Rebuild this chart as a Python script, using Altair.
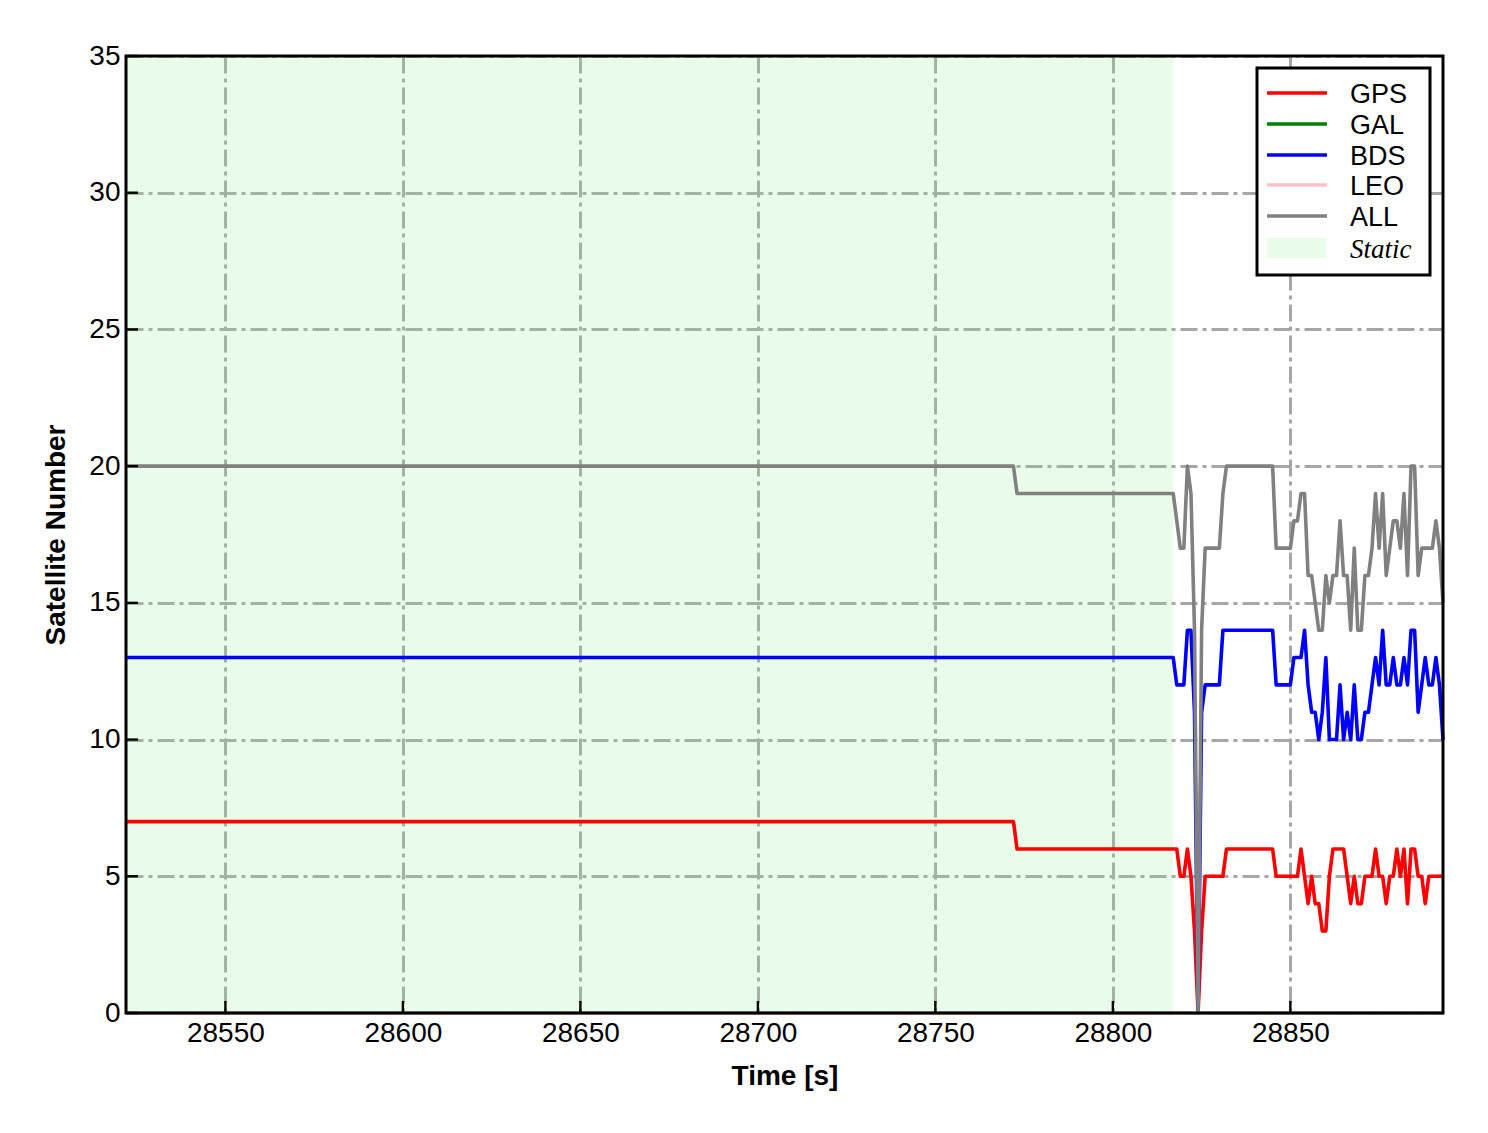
import altair as alt
import pandas as pd

# ---------------- data ----------------
# epochs: constant static stretch given by its breakpoints, then 1 Hz epochs
TIME = [28522, 28772, 28773, 28817] + list(range(28818, 28894))

GPS = [7, 7, 6, 6,
       6, 5, 5, 6, 5, 3, 0, 3, 5, 5,
       5, 5, 5, 5, 6, 6, 6, 6, 6, 6,
       6, 6, 6, 6, 6, 6, 6, 6, 5, 5,
       5, 5, 5, 5, 5, 6, 5, 4, 5, 4,
       4, 3, 3, 5, 6, 6, 6, 6, 5, 4,
       5, 4, 4, 5, 5, 5, 6, 5, 5, 4,
       5, 5, 6, 5, 6, 4, 6, 6, 5, 5,
       4, 5, 5, 5, 5, 5]

BDS = [13, 13, 13, 13,
       12, 12, 12, 14, 14, 11, 0, 11, 12, 12,
       12, 12, 12, 14, 14, 14, 14, 14, 14, 14,
       14, 14, 14, 14, 14, 14, 14, 14, 12, 12,
       12, 12, 12, 13, 13, 13, 14, 12, 11, 11,
       10, 11, 13, 10, 10, 10, 12, 10, 11, 10,
       12, 10, 10, 11, 11, 12, 13, 12, 14, 12,
       12, 13, 12, 12, 13, 12, 14, 14, 11, 12,
       13, 12, 12, 13, 12, 10]

ALL = [20, 20, 19, 19,
       18, 17, 17, 20, 19, 14, 0, 14, 17, 17,
       17, 17, 17, 19, 20, 20, 20, 20, 20, 20,
       20, 20, 20, 20, 20, 20, 20, 20, 17, 17,
       17, 17, 17, 18, 18, 19, 19, 16, 16, 15,
       14, 14, 16, 15, 16, 16, 18, 16, 16, 14,
       17, 14, 14, 16, 16, 17, 19, 17, 19, 16,
       17, 18, 18, 17, 19, 16, 20, 20, 16, 17,
       17, 17, 17, 18, 17, 15]

GAL = [0] * len(TIME)
LEO = [0] * len(TIME)

STATIC_START = 28522
STATIC_END = 28817

XTICKS = [28550, 28600, 28650, 28700, 28750, 28800, 28850]
YTICKS = [0, 5, 10, 15, 20, 25, 30, 35]

SERIES = ["GPS", "GAL", "BDS", "LEO", "ALL"]
COLORS = {"GPS": "#ff0000", "GAL": "#008000", "BDS": "#0000ff",
          "LEO": "#ffc0cb", "ALL": "#808080"}

df = pd.DataFrame({"t": TIME, "GPS": GPS, "GAL": GAL, "BDS": BDS,
                   "LEO": LEO, "ALL": ALL})

# ---------------- layout ----------------
W, H = 1317, 957
FONT = "Liberation Sans"

xscale = alt.Scale(domain=[28522, 28893], nice=False, zero=False)
yscale = alt.Scale(domain=[0, 35], nice=False, zero=True)

grid_style = dict(grid=True, gridColor="#a6a6a6", gridDash=[17, 5, 4, 5],
                  gridWidth=3, domain=False, ticks=False,
                  labelFont=FONT, labelFontSize=28, labelColor="black",
                  titleFont=FONT, titleFontSize=28, titleFontWeight="bold",
                  titleColor="black")

xaxis = alt.Axis(values=XTICKS, format="d", title="Time [s]",
                 labelPadding=6, titlePadding=15, **grid_style)
yaxis = alt.Axis(values=YTICKS, format="d", title="Satellite Number",
                 labelPadding=6, titlePadding=18, **grid_style)

layers = []

# static shaded region
static_df = pd.DataFrame({"x": [STATIC_START], "x2": [STATIC_END],
                          "y": [0], "y2": [35]})
layers.append(
    alt.Chart(static_df).mark_rect(fill="#90ee90", fillOpacity=0.2,
                                   strokeWidth=0).encode(
        x=alt.X("x:Q", scale=xscale, axis=xaxis),
        x2="x2:Q",
        y=alt.Y("y:Q", scale=yscale, axis=yaxis),
        y2="y2:Q",
    )
)

# series lines
for s in SERIES:
    layers.append(
        alt.Chart(df).mark_line(color=COLORS[s], strokeWidth=3.6,
                                strokeJoin="round").encode(
            x=alt.X("t:Q", scale=xscale, axis=xaxis),
            y=alt.Y(f"{s}:Q", scale=yscale, axis=yaxis),
        )
    )

# inward ticks
xt = pd.DataFrame({"v": XTICKS})
yt = pd.DataFrame({"v": YTICKS})
layers.append(
    alt.Chart(xt).mark_rule(color="black", strokeWidth=2.4).encode(
        x=alt.X("v:Q", scale=xscale, axis=xaxis),
        y=alt.value(H - 12), y2=alt.value(H),
    )
)
layers.append(
    alt.Chart(yt).mark_rule(color="black", strokeWidth=2.4).encode(
        y=alt.Y("v:Q", scale=yscale, axis=yaxis),
        x=alt.value(0), x2=alt.value(12),
    )
)

dummy = pd.DataFrame({"a": [0]})

# frame
layers.append(
    alt.Chart(dummy).mark_rect(fillOpacity=0, stroke="black",
                               strokeWidth=3).encode(
        x=alt.value(0), x2=alt.value(W), y=alt.value(0), y2=alt.value(H)
    )
)

# legend
LEG_LABELS = ["GPS", "GAL", "BDS", "LEO", "ALL", "Static"]
LEG_ROWS = [38, 69, 100, 130, 161, 193]
layers.append(
    alt.Chart(dummy).mark_rect(fill="white", stroke="black",
                               strokeWidth=3).encode(
        x=alt.value(1131), x2=alt.value(1304),
        y=alt.value(12), y2=alt.value(219)
    )
)
for lab, yy in zip(LEG_LABELS, LEG_ROWS):
    if lab == "Static":
        layers.append(
            alt.Chart(dummy).mark_rect(fill="#90ee90", fillOpacity=0.2,
                                       strokeWidth=0).encode(
                x=alt.value(1141), x2=alt.value(1200),
                y=alt.value(yy - 11), y2=alt.value(yy + 9)
            )
        )
        layers.append(
            alt.Chart(dummy).mark_text(align="left", baseline="middle",
                                       font="Liberation Serif",
                                       fontStyle="italic", fontSize=27,
                                       color="black").encode(
                x=alt.value(1224), y=alt.value(yy + 1), text=alt.value(lab)
            )
        )
    else:
        layers.append(
            alt.Chart(dummy).mark_rule(color=COLORS[lab],
                                       strokeWidth=3.4).encode(
                x=alt.value(1141), x2=alt.value(1201), y=alt.value(yy - 1)
            )
        )
        layers.append(
            alt.Chart(dummy).mark_text(align="left", baseline="middle",
                                       font=FONT, fontSize=27,
                                       color="black").encode(
                x=alt.value(1224), y=alt.value(yy + 1), text=alt.value(lab)
            )
        )

chart = alt.layer(*layers).properties(
    width=W, height=H,
    padding={"left": 118, "top": 48, "right": 30, "bottom": 112},
    autosize=alt.AutoSizeParams(type="none"),
).configure_view(stroke=None)

chart.save("out.html", embed_options={"renderer": "svg", "actions": False})
